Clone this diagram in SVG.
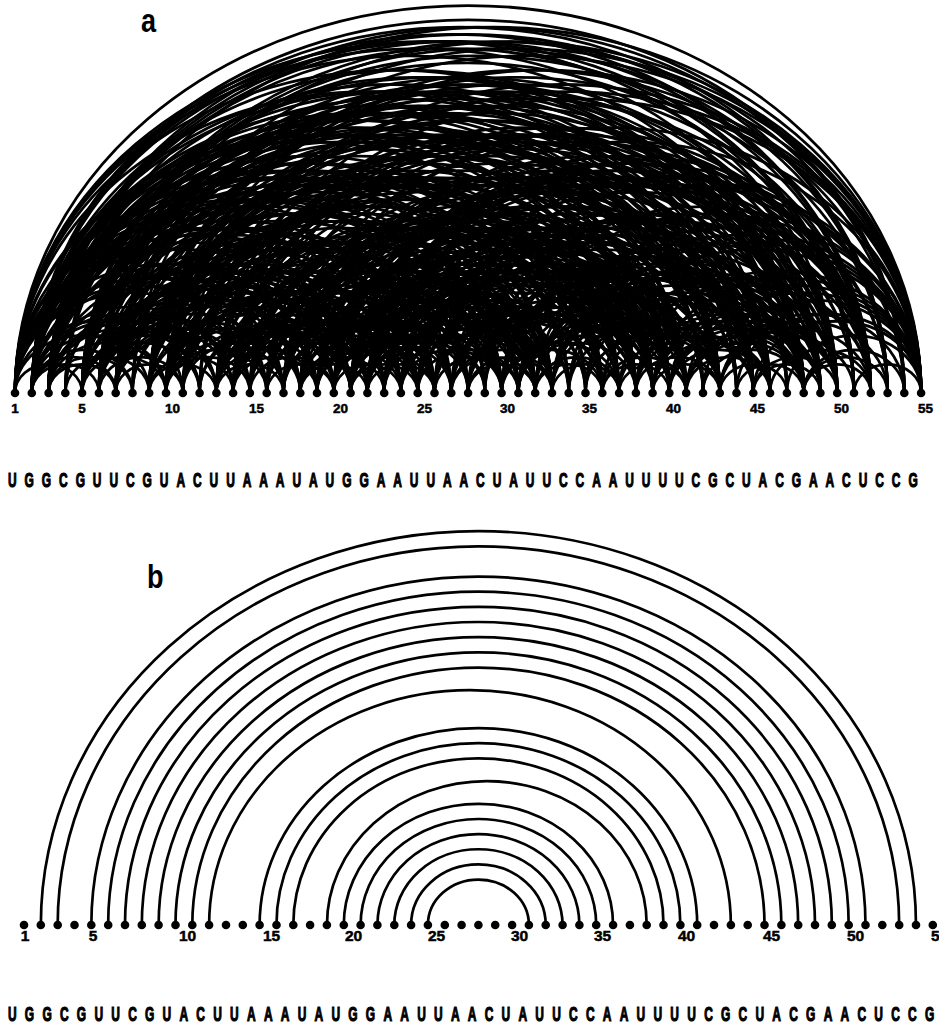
<svg xmlns="http://www.w3.org/2000/svg" width="939" height="1024" viewBox="0 0 939 1024">
<style>
.dot{fill:#000}
.arcs path{fill:none;stroke:#000;vector-effect:non-scaling-stroke}
#a-arcs path{stroke-width:2.8}
#b-arcs path{stroke-width:2.7}
.la{font-family:"Liberation Sans",Arial,sans-serif;font-weight:bold;font-size:13.5px;fill:#000;stroke:#000;stroke-width:0.5}
.lb{font-family:"Liberation Sans",Arial,sans-serif;font-weight:bold;font-size:15.5px;fill:#000;stroke:#000;stroke-width:0.5}
.seq{font-family:"Liberation Sans",Arial,sans-serif;font-weight:bold;font-size:21px;fill:#000;stroke:#000;stroke-width:1.2}
.pl{font-family:"Liberation Sans",Arial,sans-serif;font-weight:bold;font-size:33px;fill:#000}
</style>
<rect width="939" height="1024" fill="#fff"/>
<text class="pl" transform="translate(141,32) scale(0.82,1)">a</text>
<text class="pl" transform="translate(147,588) scale(0.82,1)">b</text>
<g id="a-arcs" class="arcs" transform="translate(-1.78,393) scale(16.78,14.35)">
<path d="M1 0A.5 .5 0 0 1 5 0"/><path d="M1 0A.5 .5 0 0 1 9 0"/><path d="M1 0A.5 .5 0 0 1 11 0"/><path d="M1 0A.5 .5 0 0 1 15 0"/><path d="M1 0A.5 .5 0 0 1 16 0"/><path d="M1 0A.5 .5 0 0 1 17 0"/><path d="M1 0A.5 .5 0 0 1 19 0"/><path d="M1 0A.5 .5 0 0 1 21 0"/><path d="M1 0A.5 .5 0 0 1 22 0"/><path d="M1 0A.5 .5 0 0 1 23 0"/><path d="M1 0A.5 .5 0 0 1 24 0"/><path d="M1 0A.5 .5 0 0 1 27 0"/><path d="M1 0A.5 .5 0 0 1 28 0"/><path d="M1 0A.5 .5 0 0 1 31 0"/><path d="M1 0A.5 .5 0 0 1 36 0"/><path d="M1 0A.5 .5 0 0 1 37 0"/><path d="M1 0A.5 .5 0 0 1 43 0"/><path d="M1 0A.5 .5 0 0 1 46 0"/><path d="M1 0A.5 .5 0 0 1 48 0"/><path d="M1 0A.5 .5 0 0 1 49 0"/><path d="M1 0A.5 .5 0 0 1 50 0"/><path d="M1 0A.5 .5 0 0 1 55 0"/>
<path d="M2 0A.5 .5 0 0 1 6 0"/><path d="M2 0A.5 .5 0 0 1 7 0"/><path d="M2 0A.5 .5 0 0 1 8 0"/><path d="M2 0A.5 .5 0 0 1 10 0"/><path d="M2 0A.5 .5 0 0 1 12 0"/><path d="M2 0A.5 .5 0 0 1 13 0"/><path d="M2 0A.5 .5 0 0 1 14 0"/><path d="M2 0A.5 .5 0 0 1 18 0"/><path d="M2 0A.5 .5 0 0 1 20 0"/><path d="M2 0A.5 .5 0 0 1 25 0"/><path d="M2 0A.5 .5 0 0 1 26 0"/><path d="M2 0A.5 .5 0 0 1 29 0"/><path d="M2 0A.5 .5 0 0 1 30 0"/><path d="M2 0A.5 .5 0 0 1 32 0"/><path d="M2 0A.5 .5 0 0 1 33 0"/><path d="M2 0A.5 .5 0 0 1 34 0"/><path d="M2 0A.5 .5 0 0 1 35 0"/><path d="M2 0A.5 .5 0 0 1 38 0"/><path d="M2 0A.5 .5 0 0 1 39 0"/><path d="M2 0A.5 .5 0 0 1 40 0"/><path d="M2 0A.5 .5 0 0 1 41 0"/><path d="M2 0A.5 .5 0 0 1 42 0"/><path d="M2 0A.5 .5 0 0 1 44 0"/><path d="M2 0A.5 .5 0 0 1 45 0"/><path d="M2 0A.5 .5 0 0 1 47 0"/><path d="M2 0A.5 .5 0 0 1 51 0"/><path d="M2 0A.5 .5 0 0 1 52 0"/><path d="M2 0A.5 .5 0 0 1 53 0"/><path d="M2 0A.5 .5 0 0 1 54 0"/>
<path d="M3 0A.5 .5 0 0 1 7 0"/><path d="M3 0A.5 .5 0 0 1 8 0"/><path d="M3 0A.5 .5 0 0 1 10 0"/><path d="M3 0A.5 .5 0 0 1 12 0"/><path d="M3 0A.5 .5 0 0 1 13 0"/><path d="M3 0A.5 .5 0 0 1 14 0"/><path d="M3 0A.5 .5 0 0 1 18 0"/><path d="M3 0A.5 .5 0 0 1 20 0"/><path d="M3 0A.5 .5 0 0 1 25 0"/><path d="M3 0A.5 .5 0 0 1 26 0"/><path d="M3 0A.5 .5 0 0 1 29 0"/><path d="M3 0A.5 .5 0 0 1 30 0"/><path d="M3 0A.5 .5 0 0 1 32 0"/><path d="M3 0A.5 .5 0 0 1 33 0"/><path d="M3 0A.5 .5 0 0 1 34 0"/><path d="M3 0A.5 .5 0 0 1 35 0"/><path d="M3 0A.5 .5 0 0 1 38 0"/><path d="M3 0A.5 .5 0 0 1 39 0"/><path d="M3 0A.5 .5 0 0 1 40 0"/><path d="M3 0A.5 .5 0 0 1 41 0"/><path d="M3 0A.5 .5 0 0 1 42 0"/><path d="M3 0A.5 .5 0 0 1 44 0"/><path d="M3 0A.5 .5 0 0 1 45 0"/><path d="M3 0A.5 .5 0 0 1 47 0"/><path d="M3 0A.5 .5 0 0 1 51 0"/><path d="M3 0A.5 .5 0 0 1 52 0"/><path d="M3 0A.5 .5 0 0 1 53 0"/><path d="M3 0A.5 .5 0 0 1 54 0"/>
<path d="M4 0A.5 .5 0 0 1 9 0"/><path d="M4 0A.5 .5 0 0 1 21 0"/><path d="M4 0A.5 .5 0 0 1 22 0"/><path d="M4 0A.5 .5 0 0 1 43 0"/><path d="M4 0A.5 .5 0 0 1 48 0"/><path d="M4 0A.5 .5 0 0 1 55 0"/>
<path d="M5 0A.5 .5 0 0 1 10 0"/><path d="M5 0A.5 .5 0 0 1 12 0"/><path d="M5 0A.5 .5 0 0 1 13 0"/><path d="M5 0A.5 .5 0 0 1 14 0"/><path d="M5 0A.5 .5 0 0 1 18 0"/><path d="M5 0A.5 .5 0 0 1 20 0"/><path d="M5 0A.5 .5 0 0 1 25 0"/><path d="M5 0A.5 .5 0 0 1 26 0"/><path d="M5 0A.5 .5 0 0 1 29 0"/><path d="M5 0A.5 .5 0 0 1 30 0"/><path d="M5 0A.5 .5 0 0 1 32 0"/><path d="M5 0A.5 .5 0 0 1 33 0"/><path d="M5 0A.5 .5 0 0 1 34 0"/><path d="M5 0A.5 .5 0 0 1 35 0"/><path d="M5 0A.5 .5 0 0 1 38 0"/><path d="M5 0A.5 .5 0 0 1 39 0"/><path d="M5 0A.5 .5 0 0 1 40 0"/><path d="M5 0A.5 .5 0 0 1 41 0"/><path d="M5 0A.5 .5 0 0 1 42 0"/><path d="M5 0A.5 .5 0 0 1 44 0"/><path d="M5 0A.5 .5 0 0 1 45 0"/><path d="M5 0A.5 .5 0 0 1 47 0"/><path d="M5 0A.5 .5 0 0 1 51 0"/><path d="M5 0A.5 .5 0 0 1 52 0"/><path d="M5 0A.5 .5 0 0 1 53 0"/><path d="M5 0A.5 .5 0 0 1 54 0"/>
<path d="M6 0A.5 .5 0 0 1 11 0"/><path d="M6 0A.5 .5 0 0 1 15 0"/><path d="M6 0A.5 .5 0 0 1 16 0"/><path d="M6 0A.5 .5 0 0 1 17 0"/><path d="M6 0A.5 .5 0 0 1 19 0"/><path d="M6 0A.5 .5 0 0 1 21 0"/><path d="M6 0A.5 .5 0 0 1 22 0"/><path d="M6 0A.5 .5 0 0 1 23 0"/><path d="M6 0A.5 .5 0 0 1 24 0"/><path d="M6 0A.5 .5 0 0 1 27 0"/><path d="M6 0A.5 .5 0 0 1 28 0"/><path d="M6 0A.5 .5 0 0 1 31 0"/><path d="M6 0A.5 .5 0 0 1 36 0"/><path d="M6 0A.5 .5 0 0 1 37 0"/><path d="M6 0A.5 .5 0 0 1 43 0"/><path d="M6 0A.5 .5 0 0 1 46 0"/><path d="M6 0A.5 .5 0 0 1 48 0"/><path d="M6 0A.5 .5 0 0 1 49 0"/><path d="M6 0A.5 .5 0 0 1 50 0"/><path d="M6 0A.5 .5 0 0 1 55 0"/>
<path d="M7 0A.5 .5 0 0 1 11 0"/><path d="M7 0A.5 .5 0 0 1 15 0"/><path d="M7 0A.5 .5 0 0 1 16 0"/><path d="M7 0A.5 .5 0 0 1 17 0"/><path d="M7 0A.5 .5 0 0 1 19 0"/><path d="M7 0A.5 .5 0 0 1 21 0"/><path d="M7 0A.5 .5 0 0 1 22 0"/><path d="M7 0A.5 .5 0 0 1 23 0"/><path d="M7 0A.5 .5 0 0 1 24 0"/><path d="M7 0A.5 .5 0 0 1 27 0"/><path d="M7 0A.5 .5 0 0 1 28 0"/><path d="M7 0A.5 .5 0 0 1 31 0"/><path d="M7 0A.5 .5 0 0 1 36 0"/><path d="M7 0A.5 .5 0 0 1 37 0"/><path d="M7 0A.5 .5 0 0 1 43 0"/><path d="M7 0A.5 .5 0 0 1 46 0"/><path d="M7 0A.5 .5 0 0 1 48 0"/><path d="M7 0A.5 .5 0 0 1 49 0"/><path d="M7 0A.5 .5 0 0 1 50 0"/><path d="M7 0A.5 .5 0 0 1 55 0"/>
<path d="M8 0A.5 .5 0 0 1 21 0"/><path d="M8 0A.5 .5 0 0 1 22 0"/><path d="M8 0A.5 .5 0 0 1 43 0"/><path d="M8 0A.5 .5 0 0 1 48 0"/><path d="M8 0A.5 .5 0 0 1 55 0"/>
<path d="M9 0A.5 .5 0 0 1 13 0"/><path d="M9 0A.5 .5 0 0 1 14 0"/><path d="M9 0A.5 .5 0 0 1 18 0"/><path d="M9 0A.5 .5 0 0 1 20 0"/><path d="M9 0A.5 .5 0 0 1 25 0"/><path d="M9 0A.5 .5 0 0 1 26 0"/><path d="M9 0A.5 .5 0 0 1 29 0"/><path d="M9 0A.5 .5 0 0 1 30 0"/><path d="M9 0A.5 .5 0 0 1 32 0"/><path d="M9 0A.5 .5 0 0 1 33 0"/><path d="M9 0A.5 .5 0 0 1 34 0"/><path d="M9 0A.5 .5 0 0 1 35 0"/><path d="M9 0A.5 .5 0 0 1 38 0"/><path d="M9 0A.5 .5 0 0 1 39 0"/><path d="M9 0A.5 .5 0 0 1 40 0"/><path d="M9 0A.5 .5 0 0 1 41 0"/><path d="M9 0A.5 .5 0 0 1 42 0"/><path d="M9 0A.5 .5 0 0 1 44 0"/><path d="M9 0A.5 .5 0 0 1 45 0"/><path d="M9 0A.5 .5 0 0 1 47 0"/><path d="M9 0A.5 .5 0 0 1 51 0"/><path d="M9 0A.5 .5 0 0 1 52 0"/><path d="M9 0A.5 .5 0 0 1 53 0"/><path d="M9 0A.5 .5 0 0 1 54 0"/>
<path d="M10 0A.5 .5 0 0 1 15 0"/><path d="M10 0A.5 .5 0 0 1 16 0"/><path d="M10 0A.5 .5 0 0 1 17 0"/><path d="M10 0A.5 .5 0 0 1 19 0"/><path d="M10 0A.5 .5 0 0 1 21 0"/><path d="M10 0A.5 .5 0 0 1 22 0"/><path d="M10 0A.5 .5 0 0 1 23 0"/><path d="M10 0A.5 .5 0 0 1 24 0"/><path d="M10 0A.5 .5 0 0 1 27 0"/><path d="M10 0A.5 .5 0 0 1 28 0"/><path d="M10 0A.5 .5 0 0 1 31 0"/><path d="M10 0A.5 .5 0 0 1 36 0"/><path d="M10 0A.5 .5 0 0 1 37 0"/><path d="M10 0A.5 .5 0 0 1 43 0"/><path d="M10 0A.5 .5 0 0 1 46 0"/><path d="M10 0A.5 .5 0 0 1 48 0"/><path d="M10 0A.5 .5 0 0 1 49 0"/><path d="M10 0A.5 .5 0 0 1 50 0"/><path d="M10 0A.5 .5 0 0 1 55 0"/>
<path d="M11 0A.5 .5 0 0 1 18 0"/><path d="M11 0A.5 .5 0 0 1 20 0"/><path d="M11 0A.5 .5 0 0 1 25 0"/><path d="M11 0A.5 .5 0 0 1 26 0"/><path d="M11 0A.5 .5 0 0 1 30 0"/><path d="M11 0A.5 .5 0 0 1 32 0"/><path d="M11 0A.5 .5 0 0 1 33 0"/><path d="M11 0A.5 .5 0 0 1 38 0"/><path d="M11 0A.5 .5 0 0 1 39 0"/><path d="M11 0A.5 .5 0 0 1 40 0"/><path d="M11 0A.5 .5 0 0 1 41 0"/><path d="M11 0A.5 .5 0 0 1 45 0"/><path d="M11 0A.5 .5 0 0 1 52 0"/>
<path d="M12 0A.5 .5 0 0 1 21 0"/><path d="M12 0A.5 .5 0 0 1 22 0"/><path d="M12 0A.5 .5 0 0 1 43 0"/><path d="M12 0A.5 .5 0 0 1 48 0"/><path d="M12 0A.5 .5 0 0 1 55 0"/>
<path d="M13 0A.5 .5 0 0 1 17 0"/><path d="M13 0A.5 .5 0 0 1 19 0"/><path d="M13 0A.5 .5 0 0 1 21 0"/><path d="M13 0A.5 .5 0 0 1 22 0"/><path d="M13 0A.5 .5 0 0 1 23 0"/><path d="M13 0A.5 .5 0 0 1 24 0"/><path d="M13 0A.5 .5 0 0 1 27 0"/><path d="M13 0A.5 .5 0 0 1 28 0"/><path d="M13 0A.5 .5 0 0 1 31 0"/><path d="M13 0A.5 .5 0 0 1 36 0"/><path d="M13 0A.5 .5 0 0 1 37 0"/><path d="M13 0A.5 .5 0 0 1 43 0"/><path d="M13 0A.5 .5 0 0 1 46 0"/><path d="M13 0A.5 .5 0 0 1 48 0"/><path d="M13 0A.5 .5 0 0 1 49 0"/><path d="M13 0A.5 .5 0 0 1 50 0"/><path d="M13 0A.5 .5 0 0 1 55 0"/>
<path d="M14 0A.5 .5 0 0 1 19 0"/><path d="M14 0A.5 .5 0 0 1 21 0"/><path d="M14 0A.5 .5 0 0 1 22 0"/><path d="M14 0A.5 .5 0 0 1 23 0"/><path d="M14 0A.5 .5 0 0 1 24 0"/><path d="M14 0A.5 .5 0 0 1 27 0"/><path d="M14 0A.5 .5 0 0 1 28 0"/><path d="M14 0A.5 .5 0 0 1 31 0"/><path d="M14 0A.5 .5 0 0 1 36 0"/><path d="M14 0A.5 .5 0 0 1 37 0"/><path d="M14 0A.5 .5 0 0 1 43 0"/><path d="M14 0A.5 .5 0 0 1 46 0"/><path d="M14 0A.5 .5 0 0 1 48 0"/><path d="M14 0A.5 .5 0 0 1 49 0"/><path d="M14 0A.5 .5 0 0 1 50 0"/><path d="M14 0A.5 .5 0 0 1 55 0"/>
<path d="M15 0A.5 .5 0 0 1 20 0"/><path d="M15 0A.5 .5 0 0 1 25 0"/><path d="M15 0A.5 .5 0 0 1 26 0"/><path d="M15 0A.5 .5 0 0 1 30 0"/><path d="M15 0A.5 .5 0 0 1 32 0"/><path d="M15 0A.5 .5 0 0 1 33 0"/><path d="M15 0A.5 .5 0 0 1 38 0"/><path d="M15 0A.5 .5 0 0 1 39 0"/><path d="M15 0A.5 .5 0 0 1 40 0"/><path d="M15 0A.5 .5 0 0 1 41 0"/><path d="M15 0A.5 .5 0 0 1 45 0"/><path d="M15 0A.5 .5 0 0 1 52 0"/>
<path d="M16 0A.5 .5 0 0 1 20 0"/><path d="M16 0A.5 .5 0 0 1 25 0"/><path d="M16 0A.5 .5 0 0 1 26 0"/><path d="M16 0A.5 .5 0 0 1 30 0"/><path d="M16 0A.5 .5 0 0 1 32 0"/><path d="M16 0A.5 .5 0 0 1 33 0"/><path d="M16 0A.5 .5 0 0 1 38 0"/><path d="M16 0A.5 .5 0 0 1 39 0"/><path d="M16 0A.5 .5 0 0 1 40 0"/><path d="M16 0A.5 .5 0 0 1 41 0"/><path d="M16 0A.5 .5 0 0 1 45 0"/><path d="M16 0A.5 .5 0 0 1 52 0"/>
<path d="M17 0A.5 .5 0 0 1 25 0"/><path d="M17 0A.5 .5 0 0 1 26 0"/><path d="M17 0A.5 .5 0 0 1 30 0"/><path d="M17 0A.5 .5 0 0 1 32 0"/><path d="M17 0A.5 .5 0 0 1 33 0"/><path d="M17 0A.5 .5 0 0 1 38 0"/><path d="M17 0A.5 .5 0 0 1 39 0"/><path d="M17 0A.5 .5 0 0 1 40 0"/><path d="M17 0A.5 .5 0 0 1 41 0"/><path d="M17 0A.5 .5 0 0 1 45 0"/><path d="M17 0A.5 .5 0 0 1 52 0"/>
<path d="M18 0A.5 .5 0 0 1 22 0"/><path d="M18 0A.5 .5 0 0 1 23 0"/><path d="M18 0A.5 .5 0 0 1 24 0"/><path d="M18 0A.5 .5 0 0 1 27 0"/><path d="M18 0A.5 .5 0 0 1 28 0"/><path d="M18 0A.5 .5 0 0 1 31 0"/><path d="M18 0A.5 .5 0 0 1 36 0"/><path d="M18 0A.5 .5 0 0 1 37 0"/><path d="M18 0A.5 .5 0 0 1 43 0"/><path d="M18 0A.5 .5 0 0 1 46 0"/><path d="M18 0A.5 .5 0 0 1 48 0"/><path d="M18 0A.5 .5 0 0 1 49 0"/><path d="M18 0A.5 .5 0 0 1 50 0"/><path d="M18 0A.5 .5 0 0 1 55 0"/>
<path d="M19 0A.5 .5 0 0 1 25 0"/><path d="M19 0A.5 .5 0 0 1 26 0"/><path d="M19 0A.5 .5 0 0 1 30 0"/><path d="M19 0A.5 .5 0 0 1 32 0"/><path d="M19 0A.5 .5 0 0 1 33 0"/><path d="M19 0A.5 .5 0 0 1 38 0"/><path d="M19 0A.5 .5 0 0 1 39 0"/><path d="M19 0A.5 .5 0 0 1 40 0"/><path d="M19 0A.5 .5 0 0 1 41 0"/><path d="M19 0A.5 .5 0 0 1 45 0"/><path d="M19 0A.5 .5 0 0 1 52 0"/>
<path d="M20 0A.5 .5 0 0 1 24 0"/><path d="M20 0A.5 .5 0 0 1 27 0"/><path d="M20 0A.5 .5 0 0 1 28 0"/><path d="M20 0A.5 .5 0 0 1 31 0"/><path d="M20 0A.5 .5 0 0 1 36 0"/><path d="M20 0A.5 .5 0 0 1 37 0"/><path d="M20 0A.5 .5 0 0 1 43 0"/><path d="M20 0A.5 .5 0 0 1 46 0"/><path d="M20 0A.5 .5 0 0 1 48 0"/><path d="M20 0A.5 .5 0 0 1 49 0"/><path d="M20 0A.5 .5 0 0 1 50 0"/><path d="M20 0A.5 .5 0 0 1 55 0"/>
<path d="M21 0A.5 .5 0 0 1 25 0"/><path d="M21 0A.5 .5 0 0 1 26 0"/><path d="M21 0A.5 .5 0 0 1 29 0"/><path d="M21 0A.5 .5 0 0 1 30 0"/><path d="M21 0A.5 .5 0 0 1 32 0"/><path d="M21 0A.5 .5 0 0 1 33 0"/><path d="M21 0A.5 .5 0 0 1 34 0"/><path d="M21 0A.5 .5 0 0 1 35 0"/><path d="M21 0A.5 .5 0 0 1 38 0"/><path d="M21 0A.5 .5 0 0 1 39 0"/><path d="M21 0A.5 .5 0 0 1 40 0"/><path d="M21 0A.5 .5 0 0 1 41 0"/><path d="M21 0A.5 .5 0 0 1 42 0"/><path d="M21 0A.5 .5 0 0 1 44 0"/><path d="M21 0A.5 .5 0 0 1 45 0"/><path d="M21 0A.5 .5 0 0 1 47 0"/><path d="M21 0A.5 .5 0 0 1 51 0"/><path d="M21 0A.5 .5 0 0 1 52 0"/><path d="M21 0A.5 .5 0 0 1 53 0"/><path d="M21 0A.5 .5 0 0 1 54 0"/>
<path d="M22 0A.5 .5 0 0 1 26 0"/><path d="M22 0A.5 .5 0 0 1 29 0"/><path d="M22 0A.5 .5 0 0 1 30 0"/><path d="M22 0A.5 .5 0 0 1 32 0"/><path d="M22 0A.5 .5 0 0 1 33 0"/><path d="M22 0A.5 .5 0 0 1 34 0"/><path d="M22 0A.5 .5 0 0 1 35 0"/><path d="M22 0A.5 .5 0 0 1 38 0"/><path d="M22 0A.5 .5 0 0 1 39 0"/><path d="M22 0A.5 .5 0 0 1 40 0"/><path d="M22 0A.5 .5 0 0 1 41 0"/><path d="M22 0A.5 .5 0 0 1 42 0"/><path d="M22 0A.5 .5 0 0 1 44 0"/><path d="M22 0A.5 .5 0 0 1 45 0"/><path d="M22 0A.5 .5 0 0 1 47 0"/><path d="M22 0A.5 .5 0 0 1 51 0"/><path d="M22 0A.5 .5 0 0 1 52 0"/><path d="M22 0A.5 .5 0 0 1 53 0"/><path d="M22 0A.5 .5 0 0 1 54 0"/>
<path d="M23 0A.5 .5 0 0 1 30 0"/><path d="M23 0A.5 .5 0 0 1 32 0"/><path d="M23 0A.5 .5 0 0 1 33 0"/><path d="M23 0A.5 .5 0 0 1 38 0"/><path d="M23 0A.5 .5 0 0 1 39 0"/><path d="M23 0A.5 .5 0 0 1 40 0"/><path d="M23 0A.5 .5 0 0 1 41 0"/><path d="M23 0A.5 .5 0 0 1 45 0"/><path d="M23 0A.5 .5 0 0 1 52 0"/>
<path d="M24 0A.5 .5 0 0 1 30 0"/><path d="M24 0A.5 .5 0 0 1 32 0"/><path d="M24 0A.5 .5 0 0 1 33 0"/><path d="M24 0A.5 .5 0 0 1 38 0"/><path d="M24 0A.5 .5 0 0 1 39 0"/><path d="M24 0A.5 .5 0 0 1 40 0"/><path d="M24 0A.5 .5 0 0 1 41 0"/><path d="M24 0A.5 .5 0 0 1 45 0"/><path d="M24 0A.5 .5 0 0 1 52 0"/>
<path d="M25 0A.5 .5 0 0 1 31 0"/><path d="M25 0A.5 .5 0 0 1 36 0"/><path d="M25 0A.5 .5 0 0 1 37 0"/><path d="M25 0A.5 .5 0 0 1 43 0"/><path d="M25 0A.5 .5 0 0 1 46 0"/><path d="M25 0A.5 .5 0 0 1 48 0"/><path d="M25 0A.5 .5 0 0 1 49 0"/><path d="M25 0A.5 .5 0 0 1 50 0"/><path d="M25 0A.5 .5 0 0 1 55 0"/>
<path d="M26 0A.5 .5 0 0 1 31 0"/><path d="M26 0A.5 .5 0 0 1 36 0"/><path d="M26 0A.5 .5 0 0 1 37 0"/><path d="M26 0A.5 .5 0 0 1 43 0"/><path d="M26 0A.5 .5 0 0 1 46 0"/><path d="M26 0A.5 .5 0 0 1 48 0"/><path d="M26 0A.5 .5 0 0 1 49 0"/><path d="M26 0A.5 .5 0 0 1 50 0"/><path d="M26 0A.5 .5 0 0 1 55 0"/>
<path d="M27 0A.5 .5 0 0 1 32 0"/><path d="M27 0A.5 .5 0 0 1 33 0"/><path d="M27 0A.5 .5 0 0 1 38 0"/><path d="M27 0A.5 .5 0 0 1 39 0"/><path d="M27 0A.5 .5 0 0 1 40 0"/><path d="M27 0A.5 .5 0 0 1 41 0"/><path d="M27 0A.5 .5 0 0 1 45 0"/><path d="M27 0A.5 .5 0 0 1 52 0"/>
<path d="M28 0A.5 .5 0 0 1 32 0"/><path d="M28 0A.5 .5 0 0 1 33 0"/><path d="M28 0A.5 .5 0 0 1 38 0"/><path d="M28 0A.5 .5 0 0 1 39 0"/><path d="M28 0A.5 .5 0 0 1 40 0"/><path d="M28 0A.5 .5 0 0 1 41 0"/><path d="M28 0A.5 .5 0 0 1 45 0"/><path d="M28 0A.5 .5 0 0 1 52 0"/>
<path d="M29 0A.5 .5 0 0 1 43 0"/><path d="M29 0A.5 .5 0 0 1 48 0"/><path d="M29 0A.5 .5 0 0 1 55 0"/>
<path d="M30 0A.5 .5 0 0 1 36 0"/><path d="M30 0A.5 .5 0 0 1 37 0"/><path d="M30 0A.5 .5 0 0 1 43 0"/><path d="M30 0A.5 .5 0 0 1 46 0"/><path d="M30 0A.5 .5 0 0 1 48 0"/><path d="M30 0A.5 .5 0 0 1 49 0"/><path d="M30 0A.5 .5 0 0 1 50 0"/><path d="M30 0A.5 .5 0 0 1 55 0"/>
<path d="M31 0A.5 .5 0 0 1 38 0"/><path d="M31 0A.5 .5 0 0 1 39 0"/><path d="M31 0A.5 .5 0 0 1 40 0"/><path d="M31 0A.5 .5 0 0 1 41 0"/><path d="M31 0A.5 .5 0 0 1 45 0"/><path d="M31 0A.5 .5 0 0 1 52 0"/>
<path d="M32 0A.5 .5 0 0 1 36 0"/><path d="M32 0A.5 .5 0 0 1 37 0"/><path d="M32 0A.5 .5 0 0 1 43 0"/><path d="M32 0A.5 .5 0 0 1 46 0"/><path d="M32 0A.5 .5 0 0 1 48 0"/><path d="M32 0A.5 .5 0 0 1 49 0"/><path d="M32 0A.5 .5 0 0 1 50 0"/><path d="M32 0A.5 .5 0 0 1 55 0"/>
<path d="M33 0A.5 .5 0 0 1 37 0"/><path d="M33 0A.5 .5 0 0 1 43 0"/><path d="M33 0A.5 .5 0 0 1 46 0"/><path d="M33 0A.5 .5 0 0 1 48 0"/><path d="M33 0A.5 .5 0 0 1 49 0"/><path d="M33 0A.5 .5 0 0 1 50 0"/><path d="M33 0A.5 .5 0 0 1 55 0"/>
<path d="M34 0A.5 .5 0 0 1 43 0"/><path d="M34 0A.5 .5 0 0 1 48 0"/><path d="M34 0A.5 .5 0 0 1 55 0"/>
<path d="M35 0A.5 .5 0 0 1 43 0"/><path d="M35 0A.5 .5 0 0 1 48 0"/><path d="M35 0A.5 .5 0 0 1 55 0"/>
<path d="M36 0A.5 .5 0 0 1 40 0"/><path d="M36 0A.5 .5 0 0 1 41 0"/><path d="M36 0A.5 .5 0 0 1 45 0"/><path d="M36 0A.5 .5 0 0 1 52 0"/>
<path d="M37 0A.5 .5 0 0 1 41 0"/><path d="M37 0A.5 .5 0 0 1 45 0"/><path d="M37 0A.5 .5 0 0 1 52 0"/>
<path d="M38 0A.5 .5 0 0 1 43 0"/><path d="M38 0A.5 .5 0 0 1 46 0"/><path d="M38 0A.5 .5 0 0 1 48 0"/><path d="M38 0A.5 .5 0 0 1 49 0"/><path d="M38 0A.5 .5 0 0 1 50 0"/><path d="M38 0A.5 .5 0 0 1 55 0"/>
<path d="M39 0A.5 .5 0 0 1 43 0"/><path d="M39 0A.5 .5 0 0 1 46 0"/><path d="M39 0A.5 .5 0 0 1 48 0"/><path d="M39 0A.5 .5 0 0 1 49 0"/><path d="M39 0A.5 .5 0 0 1 50 0"/><path d="M39 0A.5 .5 0 0 1 55 0"/>
<path d="M40 0A.5 .5 0 0 1 46 0"/><path d="M40 0A.5 .5 0 0 1 48 0"/><path d="M40 0A.5 .5 0 0 1 49 0"/><path d="M40 0A.5 .5 0 0 1 50 0"/><path d="M40 0A.5 .5 0 0 1 55 0"/>
<path d="M41 0A.5 .5 0 0 1 46 0"/><path d="M41 0A.5 .5 0 0 1 48 0"/><path d="M41 0A.5 .5 0 0 1 49 0"/><path d="M41 0A.5 .5 0 0 1 50 0"/><path d="M41 0A.5 .5 0 0 1 55 0"/>
<path d="M42 0A.5 .5 0 0 1 48 0"/><path d="M42 0A.5 .5 0 0 1 55 0"/>
<path d="M43 0A.5 .5 0 0 1 47 0"/><path d="M43 0A.5 .5 0 0 1 51 0"/><path d="M43 0A.5 .5 0 0 1 52 0"/><path d="M43 0A.5 .5 0 0 1 53 0"/><path d="M43 0A.5 .5 0 0 1 54 0"/>
<path d="M44 0A.5 .5 0 0 1 48 0"/><path d="M44 0A.5 .5 0 0 1 55 0"/>
<path d="M45 0A.5 .5 0 0 1 49 0"/><path d="M45 0A.5 .5 0 0 1 50 0"/><path d="M45 0A.5 .5 0 0 1 55 0"/>
<path d="M46 0A.5 .5 0 0 1 52 0"/>
<path d="M47 0A.5 .5 0 0 1 55 0"/>
<path d="M48 0A.5 .5 0 0 1 52 0"/><path d="M48 0A.5 .5 0 0 1 53 0"/><path d="M48 0A.5 .5 0 0 1 54 0"/>
<path d="M51 0A.5 .5 0 0 1 55 0"/>
</g>
<g id="b-arcs" class="arcs" transform="translate(7.17,925) scale(16.83,15.15)">
<path d="M2 0A.5 .5 0 0 1 54 0"/><path d="M3 0A.5 .5 0 0 1 53 0"/><path d="M5 0A.5 .5 0 0 1 51 0"/><path d="M6 0A.5 .5 0 0 1 50 0"/><path d="M7 0A.5 .5 0 0 1 49 0"/><path d="M8 0A.5 .5 0 0 1 48 0"/><path d="M9 0A.5 .5 0 0 1 47 0"/><path d="M10 0A.5 .5 0 0 1 46 0"/><path d="M11 0A.5 .5 0 0 1 45 0"/><path d="M12 0A.5 .5 0 0 1 43 0"/>
<path d="M15 0A.5 .5 0 0 1 41 0"/><path d="M16 0A.5 .5 0 0 1 40 0"/><path d="M17 0A.5 .5 0 0 1 39 0"/><path d="M19 0A.5 .5 0 0 1 38 0"/><path d="M20 0A.5 .5 0 0 1 36 0"/><path d="M21 0A.5 .5 0 0 1 35 0"/><path d="M22 0A.5 .5 0 0 1 34 0"/><path d="M23 0A.5 .5 0 0 1 33 0"/><path d="M24 0A.5 .5 0 0 1 32 0"/><path d="M25 0A.5 .5 0 0 1 31 0"/>
</g>
<g id="a-nodes">
<g id="a-n1"><circle class="dot" cx="15" cy="393" r="4.3"/><text class="la" x="15" y="413" text-anchor="middle">1</text></g>
<g id="a-n2"><circle class="dot" cx="31.8" cy="393" r="4.3"/></g>
<g id="a-n3"><circle class="dot" cx="48.6" cy="393" r="4.3"/></g>
<g id="a-n4"><circle class="dot" cx="65.3" cy="393" r="4.3"/></g>
<g id="a-n5"><circle class="dot" cx="82.1" cy="393" r="4.3"/><text class="la" x="82.1" y="413" text-anchor="middle">5</text></g>
<g id="a-n6"><circle class="dot" cx="98.9" cy="393" r="4.3"/></g>
<g id="a-n7"><circle class="dot" cx="115.7" cy="393" r="4.3"/></g>
<g id="a-n8"><circle class="dot" cx="132.5" cy="393" r="4.3"/></g>
<g id="a-n9"><circle class="dot" cx="149.2" cy="393" r="4.3"/></g>
<g id="a-n10"><circle class="dot" cx="166" cy="393" r="4.3"/><text class="la" x="165" y="413">10</text></g>
<g id="a-n11"><circle class="dot" cx="182.8" cy="393" r="4.3"/></g>
<g id="a-n12"><circle class="dot" cx="199.6" cy="393" r="4.3"/></g>
<g id="a-n13"><circle class="dot" cx="216.4" cy="393" r="4.3"/></g>
<g id="a-n14"><circle class="dot" cx="233.1" cy="393" r="4.3"/></g>
<g id="a-n15"><circle class="dot" cx="249.9" cy="393" r="4.3"/><text class="la" x="249" y="413">15</text></g>
<g id="a-n16"><circle class="dot" cx="266.7" cy="393" r="4.3"/></g>
<g id="a-n17"><circle class="dot" cx="283.5" cy="393" r="4.3"/></g>
<g id="a-n18"><circle class="dot" cx="300.3" cy="393" r="4.3"/></g>
<g id="a-n19"><circle class="dot" cx="317" cy="393" r="4.3"/></g>
<g id="a-n20"><circle class="dot" cx="333.8" cy="393" r="4.3"/><text class="la" x="333" y="413">20</text></g>
<g id="a-n21"><circle class="dot" cx="350.6" cy="393" r="4.3"/></g>
<g id="a-n22"><circle class="dot" cx="367.4" cy="393" r="4.3"/></g>
<g id="a-n23"><circle class="dot" cx="384.2" cy="393" r="4.3"/></g>
<g id="a-n24"><circle class="dot" cx="400.9" cy="393" r="4.3"/></g>
<g id="a-n25"><circle class="dot" cx="417.7" cy="393" r="4.3"/><text class="la" x="417" y="413">25</text></g>
<g id="a-n26"><circle class="dot" cx="434.5" cy="393" r="4.3"/></g>
<g id="a-n27"><circle class="dot" cx="451.3" cy="393" r="4.3"/></g>
<g id="a-n28"><circle class="dot" cx="468.1" cy="393" r="4.3"/></g>
<g id="a-n29"><circle class="dot" cx="484.8" cy="393" r="4.3"/></g>
<g id="a-n30"><circle class="dot" cx="501.6" cy="393" r="4.3"/><text class="la" x="500" y="413">30</text></g>
<g id="a-n31"><circle class="dot" cx="518.4" cy="393" r="4.3"/></g>
<g id="a-n32"><circle class="dot" cx="535.2" cy="393" r="4.3"/></g>
<g id="a-n33"><circle class="dot" cx="552" cy="393" r="4.3"/></g>
<g id="a-n34"><circle class="dot" cx="568.7" cy="393" r="4.3"/></g>
<g id="a-n35"><circle class="dot" cx="585.5" cy="393" r="4.3"/><text class="la" x="582" y="413">35</text></g>
<g id="a-n36"><circle class="dot" cx="602.3" cy="393" r="4.3"/></g>
<g id="a-n37"><circle class="dot" cx="619.1" cy="393" r="4.3"/></g>
<g id="a-n38"><circle class="dot" cx="635.9" cy="393" r="4.3"/></g>
<g id="a-n39"><circle class="dot" cx="652.6" cy="393" r="4.3"/></g>
<g id="a-n40"><circle class="dot" cx="669.4" cy="393" r="4.3"/><text class="la" x="666" y="413">40</text></g>
<g id="a-n41"><circle class="dot" cx="686.2" cy="393" r="4.3"/></g>
<g id="a-n42"><circle class="dot" cx="703" cy="393" r="4.3"/></g>
<g id="a-n43"><circle class="dot" cx="719.8" cy="393" r="4.3"/></g>
<g id="a-n44"><circle class="dot" cx="736.5" cy="393" r="4.3"/></g>
<g id="a-n45"><circle class="dot" cx="753.3" cy="393" r="4.3"/><text class="la" x="750" y="413">45</text></g>
<g id="a-n46"><circle class="dot" cx="770.1" cy="393" r="4.3"/></g>
<g id="a-n47"><circle class="dot" cx="786.9" cy="393" r="4.3"/></g>
<g id="a-n48"><circle class="dot" cx="803.7" cy="393" r="4.3"/></g>
<g id="a-n49"><circle class="dot" cx="820.4" cy="393" r="4.3"/></g>
<g id="a-n50"><circle class="dot" cx="837.2" cy="393" r="4.3"/><text class="la" x="834" y="413">50</text></g>
<g id="a-n51"><circle class="dot" cx="854" cy="393" r="4.3"/></g>
<g id="a-n52"><circle class="dot" cx="870.8" cy="393" r="4.3"/></g>
<g id="a-n53"><circle class="dot" cx="887.6" cy="393" r="4.3"/></g>
<g id="a-n54"><circle class="dot" cx="904.3" cy="393" r="4.3"/></g>
<g id="a-n55"><circle class="dot" cx="921.1" cy="393" r="4.3"/><text class="la" x="918" y="413">55</text></g>
</g>
<g id="b-nodes">
<g id="b-n1"><circle class="dot" cx="24" cy="925" r="4.3"/><text class="lb" x="25" y="941" text-anchor="middle">1</text></g>
<g id="b-n2"><circle class="dot" cx="40.8" cy="925" r="4.3"/></g>
<g id="b-n3"><circle class="dot" cx="57.7" cy="925" r="4.3"/></g>
<g id="b-n4"><circle class="dot" cx="74.5" cy="925" r="4.3"/></g>
<g id="b-n5"><circle class="dot" cx="91.3" cy="925" r="4.3"/><text class="lb" x="93" y="941" text-anchor="middle">5</text></g>
<g id="b-n6"><circle class="dot" cx="108.2" cy="925" r="4.3"/></g>
<g id="b-n7"><circle class="dot" cx="125" cy="925" r="4.3"/></g>
<g id="b-n8"><circle class="dot" cx="141.8" cy="925" r="4.3"/></g>
<g id="b-n9"><circle class="dot" cx="158.6" cy="925" r="4.3"/></g>
<g id="b-n10"><circle class="dot" cx="175.5" cy="925" r="4.3"/><text class="lb" x="179" y="941">10</text></g>
<g id="b-n11"><circle class="dot" cx="192.3" cy="925" r="4.3"/></g>
<g id="b-n12"><circle class="dot" cx="209.1" cy="925" r="4.3"/></g>
<g id="b-n13"><circle class="dot" cx="226" cy="925" r="4.3"/></g>
<g id="b-n14"><circle class="dot" cx="242.8" cy="925" r="4.3"/></g>
<g id="b-n15"><circle class="dot" cx="259.6" cy="925" r="4.3"/><text class="lb" x="263" y="941">15</text></g>
<g id="b-n16"><circle class="dot" cx="276.5" cy="925" r="4.3"/></g>
<g id="b-n17"><circle class="dot" cx="293.3" cy="925" r="4.3"/></g>
<g id="b-n18"><circle class="dot" cx="310.1" cy="925" r="4.3"/></g>
<g id="b-n19"><circle class="dot" cx="326.9" cy="925" r="4.3"/></g>
<g id="b-n20"><circle class="dot" cx="343.8" cy="925" r="4.3"/><text class="lb" x="345" y="941">20</text></g>
<g id="b-n21"><circle class="dot" cx="360.6" cy="925" r="4.3"/></g>
<g id="b-n22"><circle class="dot" cx="377.4" cy="925" r="4.3"/></g>
<g id="b-n23"><circle class="dot" cx="394.3" cy="925" r="4.3"/></g>
<g id="b-n24"><circle class="dot" cx="411.1" cy="925" r="4.3"/></g>
<g id="b-n25"><circle class="dot" cx="427.9" cy="925" r="4.3"/><text class="lb" x="428" y="941">25</text></g>
<g id="b-n26"><circle class="dot" cx="444.8" cy="925" r="4.3"/></g>
<g id="b-n27"><circle class="dot" cx="461.6" cy="925" r="4.3"/></g>
<g id="b-n28"><circle class="dot" cx="478.4" cy="925" r="4.3"/></g>
<g id="b-n29"><circle class="dot" cx="495.2" cy="925" r="4.3"/></g>
<g id="b-n30"><circle class="dot" cx="512.1" cy="925" r="4.3"/><text class="lb" x="511" y="941">30</text></g>
<g id="b-n31"><circle class="dot" cx="528.9" cy="925" r="4.3"/></g>
<g id="b-n32"><circle class="dot" cx="545.7" cy="925" r="4.3"/></g>
<g id="b-n33"><circle class="dot" cx="562.6" cy="925" r="4.3"/></g>
<g id="b-n34"><circle class="dot" cx="579.4" cy="925" r="4.3"/></g>
<g id="b-n35"><circle class="dot" cx="596.2" cy="925" r="4.3"/><text class="lb" x="594" y="941">35</text></g>
<g id="b-n36"><circle class="dot" cx="613.1" cy="925" r="4.3"/></g>
<g id="b-n37"><circle class="dot" cx="629.9" cy="925" r="4.3"/></g>
<g id="b-n38"><circle class="dot" cx="646.7" cy="925" r="4.3"/></g>
<g id="b-n39"><circle class="dot" cx="663.5" cy="925" r="4.3"/></g>
<g id="b-n40"><circle class="dot" cx="680.4" cy="925" r="4.3"/><text class="lb" x="678" y="941">40</text></g>
<g id="b-n41"><circle class="dot" cx="697.2" cy="925" r="4.3"/></g>
<g id="b-n42"><circle class="dot" cx="714" cy="925" r="4.3"/></g>
<g id="b-n43"><circle class="dot" cx="730.9" cy="925" r="4.3"/></g>
<g id="b-n44"><circle class="dot" cx="747.7" cy="925" r="4.3"/></g>
<g id="b-n45"><circle class="dot" cx="764.5" cy="925" r="4.3"/><text class="lb" x="763" y="941">45</text></g>
<g id="b-n46"><circle class="dot" cx="781.4" cy="925" r="4.3"/></g>
<g id="b-n47"><circle class="dot" cx="798.2" cy="925" r="4.3"/></g>
<g id="b-n48"><circle class="dot" cx="815" cy="925" r="4.3"/></g>
<g id="b-n49"><circle class="dot" cx="831.8" cy="925" r="4.3"/></g>
<g id="b-n50"><circle class="dot" cx="848.7" cy="925" r="4.3"/><text class="lb" x="847" y="941">50</text></g>
<g id="b-n51"><circle class="dot" cx="865.5" cy="925" r="4.3"/></g>
<g id="b-n52"><circle class="dot" cx="882.3" cy="925" r="4.3"/></g>
<g id="b-n53"><circle class="dot" cx="899.2" cy="925" r="4.3"/></g>
<g id="b-n54"><circle class="dot" cx="916" cy="925" r="4.3"/></g>
<g id="b-n55"><circle class="dot" cx="932.8" cy="925" r="4.3"/><text class="lb" x="931" y="941">5</text></g>
</g>
<text class="seq" transform="translate(8,487) scale(0.57,1)" textLength="1596" lengthAdjust="spacing">UGGCGUUCGUACUUAAAUAUGGAAUUAACUAUUCCAAUUUUCGCUACGAACUCCG</text>
<text class="seq" transform="translate(8,1021) scale(0.57,1)" textLength="1625" lengthAdjust="spacing">UGGCGUUCGUACUUAAAUAUGGAAUUAACUAUUCCAAUUUUCGCUACGAACUCCG</text>
</svg>
